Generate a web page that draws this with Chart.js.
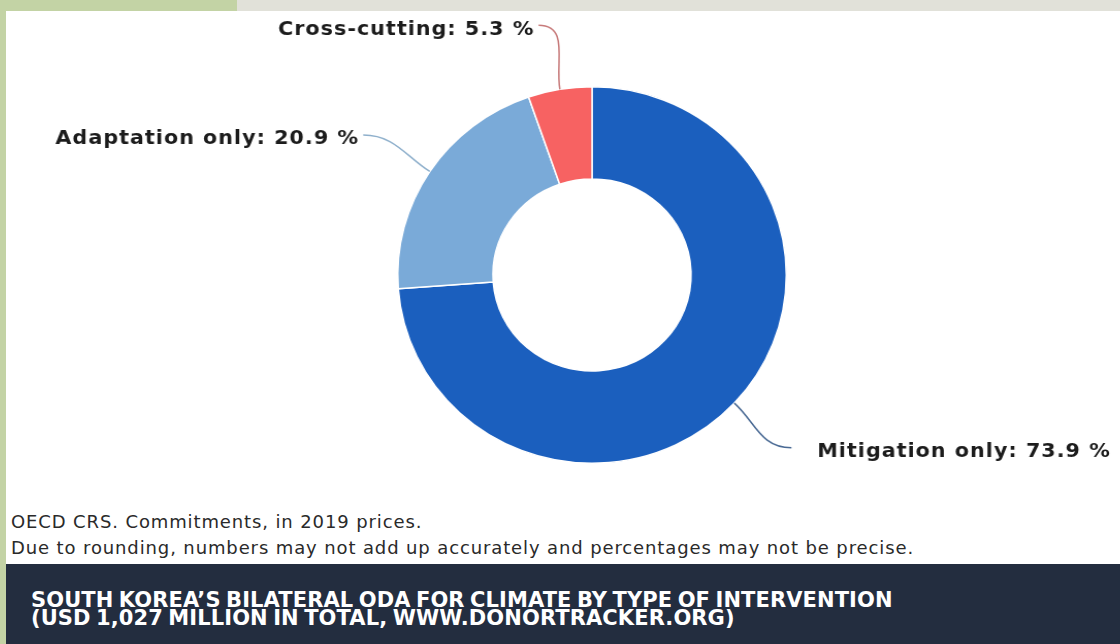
<!DOCTYPE html>
<html>
<head>
<meta charset="utf-8">
<script src="https://cdn.jsdelivr.net/npm/chart.js@4/dist/chart.umd.min.js"></script>
<style>
  html, body { margin: 0; padding: 0; }
  body { width: 1120px; height: 644px; position: relative; overflow: hidden; background: #c3d3a5; }
  #topbar { position: absolute; left: 237px; top: 0; width: 883px; height: 11px; background: #e1e1d9; }
  #panel { position: absolute; left: 6px; top: 11px; width: 1114px; height: 553px; background: #fff; }
  #chartbox { position: absolute; left: 0; top: 0; width: 1114px; height: 470px; transform: scaleX(1.032); transform-origin: 585.5px 0; }
  #notes { position: absolute; left: 5px; top: 498px; font: 18px "DejaVu Sans", sans-serif; color: #2a2a2a; line-height: 26px; letter-spacing: 0.88px; }
  #footer { position: absolute; left: 6px; top: 564px; width: 1114px; height: 80px; background: #232d3f; }
  #footer div { position: absolute; left: 25px; top: 27px; color: #fff; font: bold 21px "DejaVu Sans", sans-serif; line-height: 18px; letter-spacing: 0.1px; word-spacing: -2px; }
</style>
</head>
<body>
<div id="topbar"></div>
<div id="panel">
  <div id="chartbox"><canvas id="donut"></canvas></div>
  <div id="notes">OECD CRS. Commitments, in 2019 prices.<br>Due to rounding, numbers may not add up accurately and percentages may not be precise.</div>
</div>
<div id="footer"><div>SOUTH KOREA’S BILATERAL ODA FOR CLIMATE BY TYPE OF INTERVENTION<br>(USD 1,027 MILLION IN TOTAL, WWW.DONORTRACKER.ORG)</div></div>

<script>
// climate ODA split by type of intervention (% of commitments)
var categories = ['Mitigation only', 'Adaptation only', 'Cross-cutting'];
var shares = [73.9, 20.9, 5.3];
var sliceColors = ['#1b5fbe', '#7aaad8', '#f76262'];
var lineColors = ['#4a6a94', '#8fb0cc', '#c77a7a'];

// small nudges so the labels sit where the connectors end
var labelNudge = [[4, -3], [-6, 2], [-9, 5]];

// draws "name: value %" beside each slice with a curved connector
var pieLabels = {
  id: 'pieLabels',
  afterDatasetsDraw: function(chart) {
    var ctx = chart.ctx;
    var meta = chart.getDatasetMeta(0);
    ctx.save();
    ctx.font = 'bold 20px "DejaVu Sans", sans-serif';
    ctx.letterSpacing = '1px';
    ctx.fillStyle = '#1c1c1c';
    ctx.textBaseline = 'middle';
    meta.data.forEach(function(arc, i) {
      var p = arc.getProps(['x', 'y', 'startAngle', 'endAngle', 'outerRadius'], true);
      var mid = (p.startAngle + p.endAngle) / 2;
      var dx = Math.cos(mid), dy = Math.sin(mid);
      var ex = p.x + dx * p.outerRadius, ey = p.y + dy * p.outerRadius;
      var ax = p.x + dx * (p.outerRadius + 70) + labelNudge[i][0];
      var ay = p.y + dy * (p.outerRadius + 70) + labelNudge[i][1];
      var right = dx > 0;

      ctx.beginPath();
      ctx.moveTo(ex, ey);
      ctx.bezierCurveTo(ex + dx * 28, ey + dy * 28, ax + (right ? -30 : 30), ay, ax, ay);
      ctx.strokeStyle = lineColors[i];
      ctx.lineWidth = 1.5;
      ctx.stroke();

      var text = categories[i] + ': ' + shares[i].toFixed(1) + ' %';
      ctx.textAlign = right ? 'left' : 'right';
      ctx.fillText(text, right ? ax + 25 : ax - 4, ay + 4);
    });
    ctx.restore();
  }
};

(function() {
  var ctx = document.getElementById('donut').getContext('2d');
  new Chart(ctx, {
    type: 'doughnut',
    data: {
      labels: categories,
      datasets: [{
        data: shares,
        backgroundColor: sliceColors,
        borderColor: '#ffffff',
        borderWidth: 1.5
      }]
    },
    options: {
      responsive: true,
      maintainAspectRatio: false,
      animation: false,
      cutout: '51%',
      layout: { padding: { top: 75, bottom: 17, left: 397, right: 339 } },
      plugins: {
        legend: { display: false },
        tooltip: { enabled: false }
      }
    },
    plugins: [pieLabels]
  });
})();
</script>
</body>
</html>
